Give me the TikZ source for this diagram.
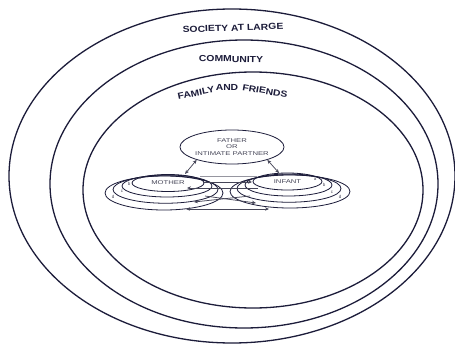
\documentclass[tikz,border=0pt]{standalone}
\usepackage{fontspec}
\setmainfont{Liberation Sans}
\usepackage{graphicx}
\usetikzlibrary{shapes.geometric,arrows.meta}
\definecolor{ink}{RGB}{28,28,58}
\definecolor{soft}{RGB}{70,70,88}
\definecolor{pale}{RGB}{150,150,160}
\newcommand{\myxs}[1]{\scalebox{1.4}[1]{#1}}
\newcommand{\myxt}[1]{\scalebox{1.18}[1]{#1}}
\begin{document}
\begin{tikzpicture}[x=1pt,y=-1pt,
  ell/.style={ellipse, draw=ink, line width=0.8pt, inner sep=0pt},
  ring/.style={ellipse, draw=ink, line width=1.3pt, inner sep=0pt},
  title/.style={font=\bfseries\fontsize{8.8}{9}\selectfont, text=ink, inner sep=0pt},
  small/.style={font=\fontsize{5.5}{7.5}\selectfont, text=soft},
  lab/.style={font=\fontsize{4.5}{5}\selectfont, text=soft, inner sep=0pt},
  conn/.style={draw=soft, line width=0.75pt},
  tip/.style={-{Stealth[length=4pt,width=3.4pt]}},
  dtip/.style={{Stealth[length=4pt,width=3.4pt]}-{Stealth[length=4pt,width=3.4pt]}}]
\useasboundingbox (0,0) rectangle (455,345);
\fill[white] (0,0) rectangle (455,345);
% contexts
\node[ring, minimum width=446, minimum height=334] (society) at (232,176) {};
\node[ring, minimum width=388, minimum height=288] (community) at (244,184) {};
\node[ring, minimum width=340, minimum height=236] (family) at (253,190) {};
\node[title, rotate=2] (tsoc) at (233,28) {\myxt{SOCIETY AT LARGE}};
\node[title, rotate=-1] (tcom) at (231,59) {\myxt{COMMUNITY}};
\node[title, rotate=12] (tfam1) at (196,93) {\myxt{FAMILY}};
\node[title] (tfam2) at (227,87) {\myxt{AND}};
\node[title, rotate=-10] (tfam3) at (265,91) {\myxt{FRIENDS}};
% father
\node[ell, minimum width=86, minimum height=34, align=center, small] (father) at (232,147)
  {\myxs{FATHER}\\[-1pt]\myxs{OR}\\[-1pt]\myxs{INTIMATE PARTNER}};
% mother cluster
\node[ell, minimum width=118, minimum height=34] (md) at (164,193) {};
\node[ell, minimum width=105, minimum height=27.5] (mc) at (165.5,189.5) {};
\node[ell, minimum width=90, minimum height=22] (mb) at (167,186) {};
\node[ell, minimum width=72, minimum height=17, small] (ma) at (168,183) {\myxs{MOTHER}};
\node[lab] (la) at (140,178) {a};
\node[lab] (lb) at (129,184) {b};
\node[lab] (lc) at (122,191) {c};
\node[lab] (ld) at (113,197) {d};
% infant cluster
\node[ell, minimum width=120, minimum height=33] (id) at (290,191.5) {};
\node[ell, minimum width=104, minimum height=27.5] (ic) at (289,188.5) {};
\node[ell, minimum width=87, minimum height=22] (ib) at (288.5,185) {};
\node[ell, minimum width=69, minimum height=17, small] (ia) at (287.5,181.5) {\myxs{INFANT}};
\node[lab] (ra) at (315,179) {a};
\node[lab] (rb) at (324,185) {b};
\node[lab] (rc) at (332,192) {c};
\node[lab] (rd) at (340,197) {d};
% connectors between the clusters
\coordinate (m1) at (203,182);
\coordinate (i1) at (252,182);
\coordinate (i2) at (258,188);
\coordinate (m2) at (187,188);
\coordinate (m3) at (205,196);
\coordinate (i3) at (256,203);
\coordinate (i4) at (250,196);
\coordinate (m4) at (194,202);
\coordinate (m5) at (186,209);
\coordinate (i5) at (269,209);
\coordinate (m6) at (200,176.5);
\coordinate (i6) at (257,176.5);
\draw[draw=pale, line width=0.6pt] (m6) -- (i6);
\draw[conn, tip] (m1) -- (i1);
\draw[conn, tip] (i2) -- (m2);
\draw[conn, tip] (m3) -- (i3);
\draw[conn, tip] (i4) -- (m4);
\draw[conn, dtip] (m5) -- (i5);
% father links
\coordinate (fm) at (185,174);
\coordinate (fi) at (279,173);
\draw[conn, dtip] (father.200) -- (fm);
\draw[conn, dtip] (father.340) -- (fi);
\end{tikzpicture}
\end{document}
